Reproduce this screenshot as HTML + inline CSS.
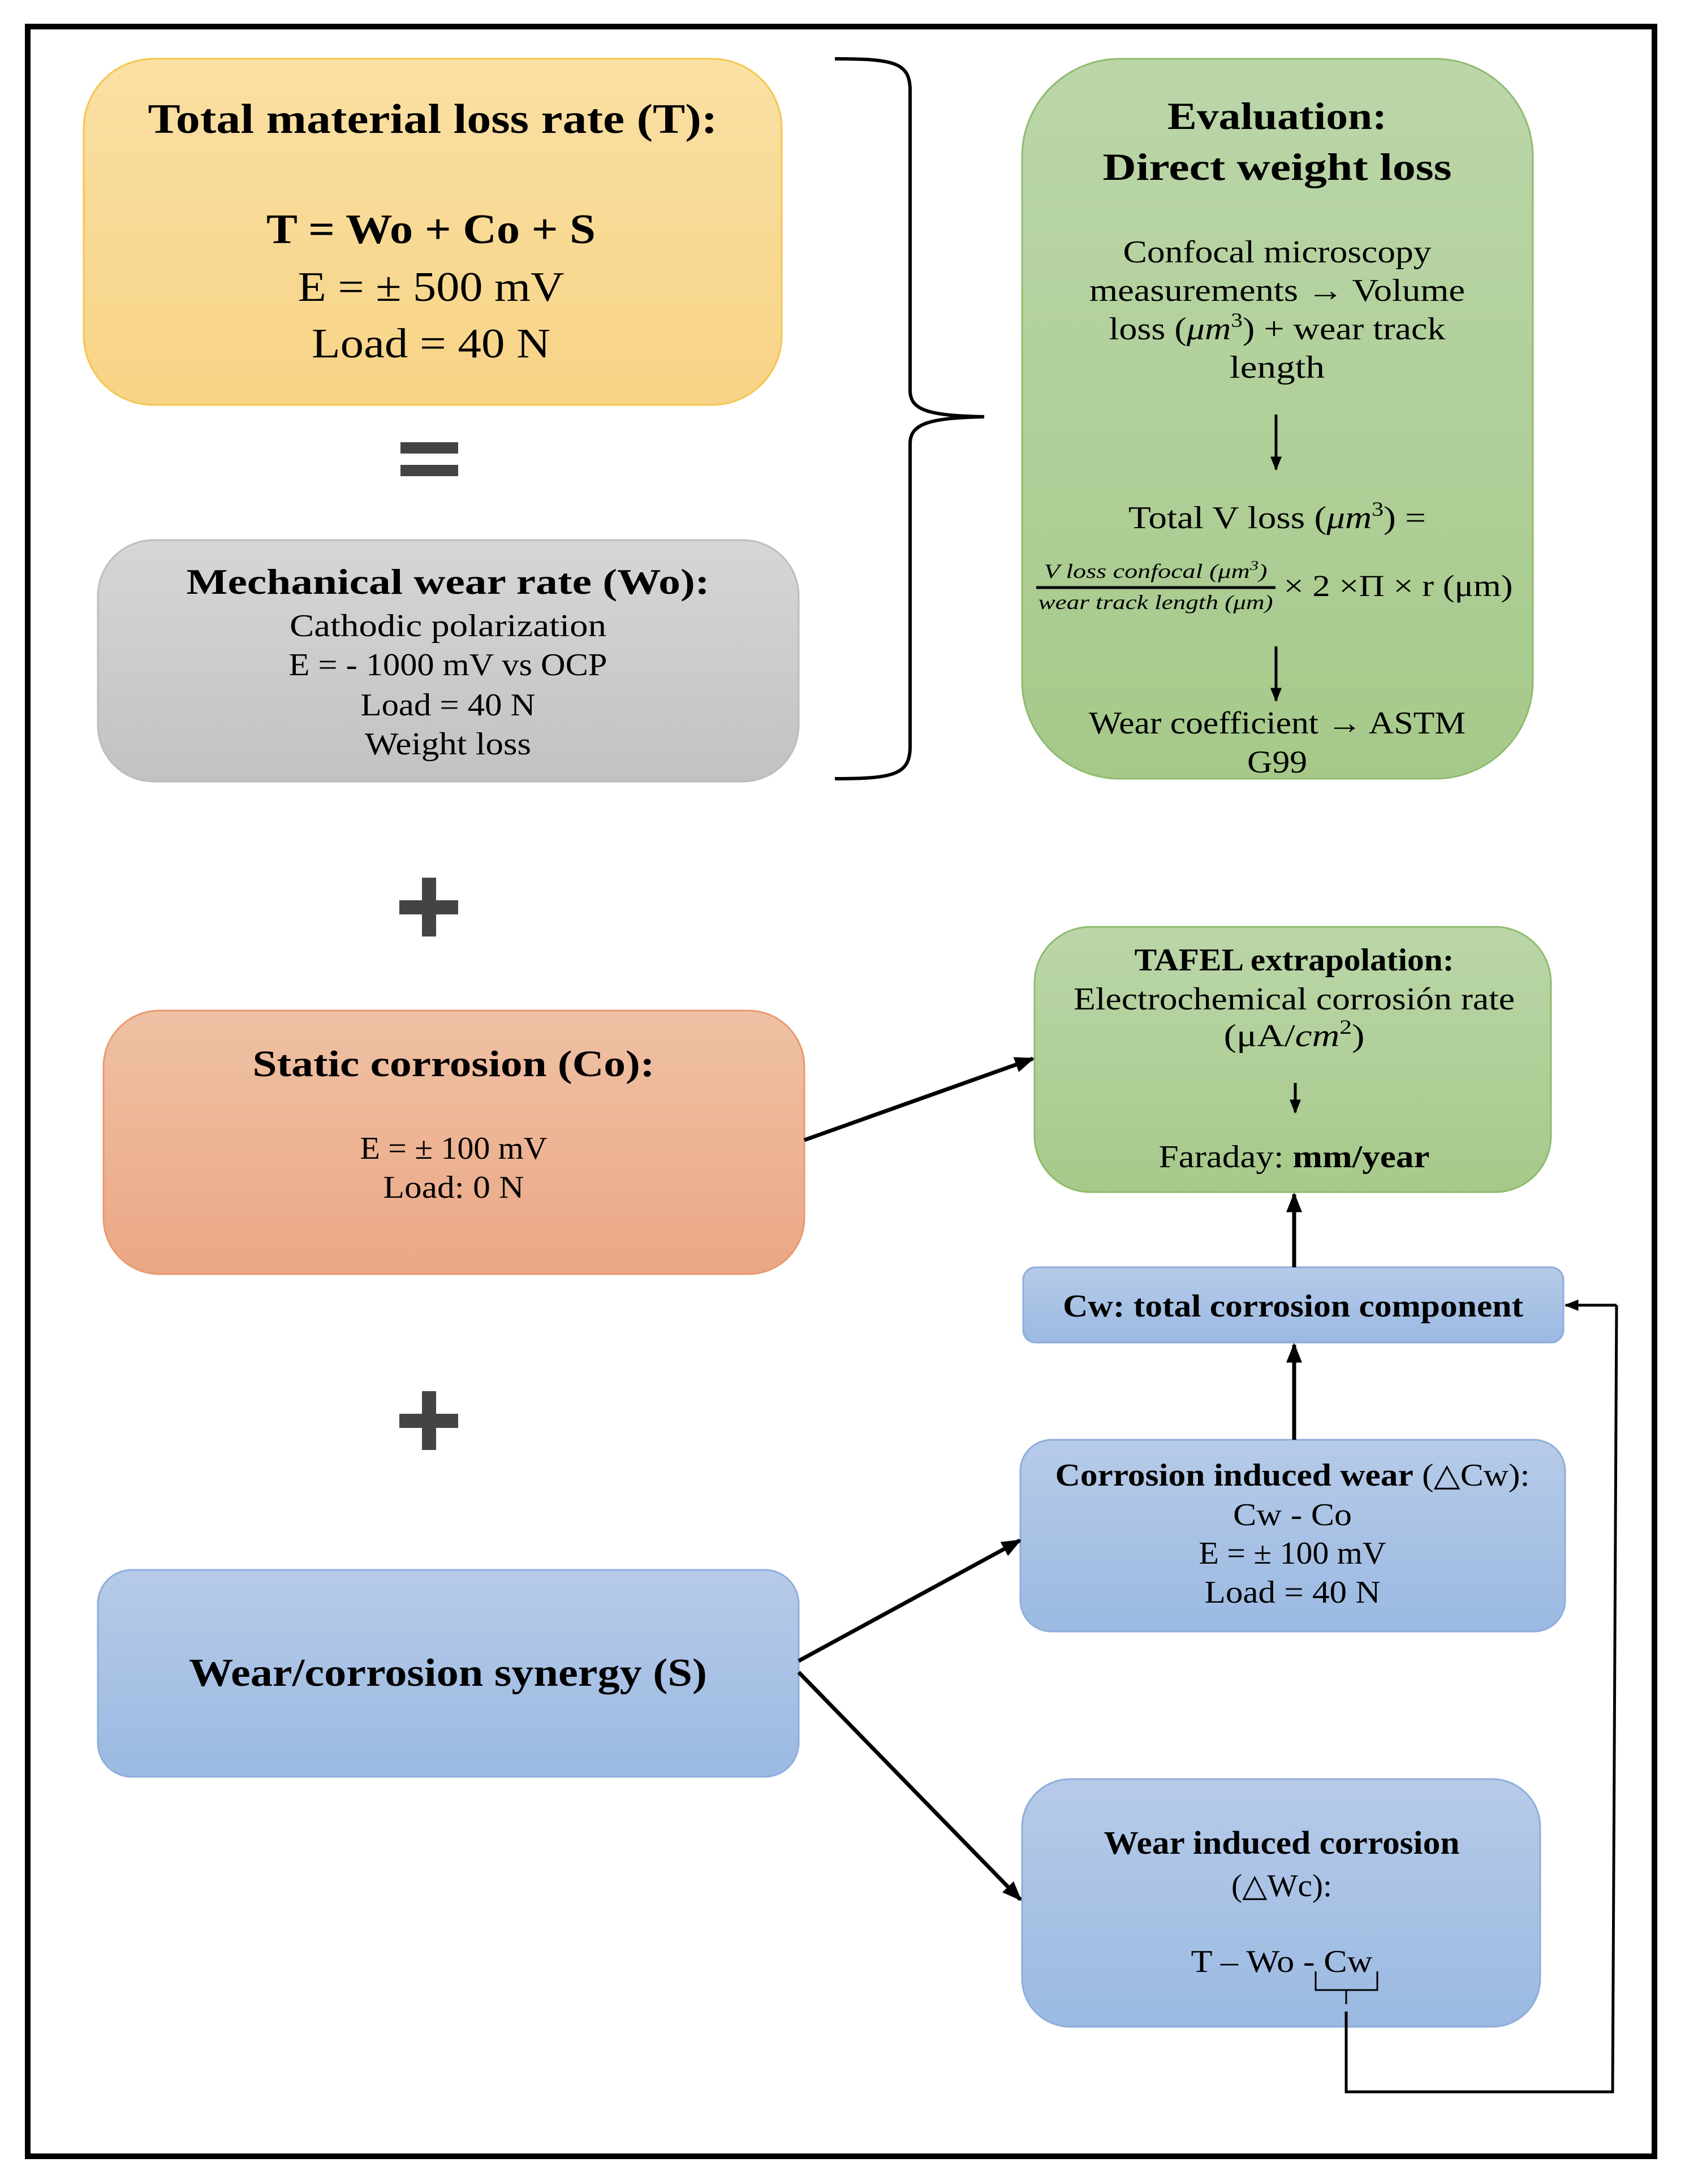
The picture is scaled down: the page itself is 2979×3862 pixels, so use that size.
<!DOCTYPE html>
<html><head><meta charset="utf-8"><style>html,body{margin:0;padding:0;background:#fff}svg{display:block}</style></head>
<body>
<svg width="2979" height="3862" viewBox="0 0 2979 3862" xmlns="http://www.w3.org/2000/svg" font-family="'Liberation Serif', serif" text-anchor="middle">
<defs>
<linearGradient id="gO" x1="0" y1="0" x2="0" y2="1"><stop offset="0" stop-color="#fae0a4"/><stop offset="1" stop-color="#f7d386"/></linearGradient>
<linearGradient id="gG" x1="0" y1="0" x2="0" y2="1"><stop offset="0" stop-color="#d6d6d6"/><stop offset="1" stop-color="#c2c2c2"/></linearGradient>
<linearGradient id="gE" x1="0" y1="0" x2="0" y2="1"><stop offset="0" stop-color="#bbd6a9"/><stop offset="1" stop-color="#a6c98a"/></linearGradient>
<linearGradient id="gR" x1="0" y1="0" x2="0" y2="1"><stop offset="0" stop-color="#efc1a4"/><stop offset="1" stop-color="#eba785"/></linearGradient>
<linearGradient id="gB" x1="0" y1="0" x2="0" y2="1"><stop offset="0" stop-color="#b6cbe8"/><stop offset="1" stop-color="#9bb9e2"/></linearGradient>
<marker id="ah" viewBox="0 0 10 10" refX="9" refY="5" markerWidth="5" markerHeight="5" orient="auto" markerUnits="strokeWidth"><path d="M0,1 L10,5 L0,9 Z" fill="#000"/></marker>
</defs>
<rect x="0" y="0" width="2979" height="3862" fill="#fff"/>
<rect x="49" y="47" width="2876" height="3766" fill="none" stroke="#000" stroke-width="10"/>

<!-- Total box -->
<rect x="148" y="104" width="1234" height="612" rx="123" fill="url(#gO)" stroke="#f4c64e" stroke-width="3"/>
<g font-weight="bold" font-size="74">
<text x="765" y="235" textLength="1007" lengthAdjust="spacingAndGlyphs">Total material loss rate (T):</text>
<text x="762" y="430" textLength="582" lengthAdjust="spacingAndGlyphs">T = Wo + Co + S</text>
</g>
<g font-size="74">
<text x="762" y="532" textLength="471" lengthAdjust="spacingAndGlyphs">E = ± 500 mV</text>
<text x="762" y="632" textLength="422" lengthAdjust="spacingAndGlyphs">Load = 40 N</text>
</g>
<!-- equals -->
<rect x="708" y="782" width="102" height="20" fill="#444"/>
<rect x="708" y="822" width="102" height="20" fill="#444"/>

<!-- Mechanical -->
<rect x="173" y="955" width="1239" height="427" rx="99" fill="url(#gG)" stroke="#bdbdbd" stroke-width="3"/>
<text x="792" y="1050" font-weight="bold" font-size="64" textLength="925" lengthAdjust="spacingAndGlyphs">Mechanical wear rate (Wo):</text>
<g font-size="56">
<text x="792" y="1125" textLength="560" lengthAdjust="spacingAndGlyphs">Cathodic polarization</text>
<text x="792" y="1194" textLength="563" lengthAdjust="spacingAndGlyphs">E = - 1000 mV vs OCP</text>
<text x="792" y="1265" textLength="309" lengthAdjust="spacingAndGlyphs">Load = 40 N</text>
<text x="792" y="1334" textLength="294" lengthAdjust="spacingAndGlyphs">Weight loss</text>
</g>

<!-- brace -->
<path d="M1476,104 C1580,104 1609,110 1609,160 L1609,690 C1609,725 1640,735 1740,737 C1640,739 1609,750 1609,785 L1609,1320 C1609,1370 1580,1377 1476,1377" fill="none" stroke="#000" stroke-width="6"/>

<!-- Evaluation -->
<rect x="1807" y="104" width="903" height="1273" rx="173" fill="url(#gE)" stroke="#8fbb6e" stroke-width="3"/>
<g font-weight="bold" font-size="68">
<text x="2258" y="228" textLength="388" lengthAdjust="spacingAndGlyphs">Evaluation:</text>
<text x="2258" y="318" textLength="617" lengthAdjust="spacingAndGlyphs">Direct weight loss</text>
</g>
<g font-size="56">
<text x="2258" y="464" textLength="545" lengthAdjust="spacingAndGlyphs">Confocal microscopy</text>
<text x="2258" y="532" textLength="664" lengthAdjust="spacingAndGlyphs">measurements → Volume</text>
<text x="2258" y="600" textLength="595" lengthAdjust="spacingAndGlyphs">loss (<tspan font-style="italic">μm</tspan><tspan font-size="36" dy="-22">3</tspan><tspan dy="22">) + wear track</tspan></text>
<text x="2258" y="668" textLength="168" lengthAdjust="spacingAndGlyphs">length</text>
<text x="2258" y="934" textLength="526" lengthAdjust="spacingAndGlyphs">Total V loss (<tspan font-style="italic">μm</tspan><tspan font-size="36" dy="-22">3</tspan><tspan dy="22">) =</tspan></text>
<text x="2258" y="1297" textLength="666" lengthAdjust="spacingAndGlyphs">Wear coefficient → ASTM</text>
<text x="2258" y="1366" textLength="106" lengthAdjust="spacingAndGlyphs">G99</text>
</g>
<line x1="2256" y1="733" x2="2256" y2="830" stroke="#000" stroke-width="5" marker-end="url(#ah)"/>
<line x1="2256" y1="1143" x2="2256" y2="1239" stroke="#000" stroke-width="5" marker-end="url(#ah)"/>
<g font-style="italic" font-size="36">
<text x="2043" y="1022" textLength="395" lengthAdjust="spacingAndGlyphs">V loss confocal (μm<tspan font-size="24" dy="-14">3</tspan><tspan dy="14">)</tspan></text>
<text x="2043" y="1077" textLength="415" lengthAdjust="spacingAndGlyphs">wear track length (μm)</text>
</g>
<line x1="1832" y1="1039" x2="2255" y2="1039" stroke="#000" stroke-width="5"/>
<text x="2472" y="1054" font-size="54" textLength="405" lengthAdjust="spacingAndGlyphs">× 2 ×Π × r (μm)</text>

<!-- plus signs -->
<rect x="706" y="1592" width="104" height="25" fill="#444"/><rect x="746" y="1552" width="25" height="104" fill="#444"/>
<rect x="706" y="2500" width="104" height="25" fill="#444"/><rect x="746" y="2460" width="25" height="104" fill="#444"/>

<!-- Static corrosion -->
<rect x="183" y="1787" width="1239" height="466" rx="99" fill="url(#gR)" stroke="#e99a70" stroke-width="3"/>
<text x="802" y="1903" font-weight="bold" font-size="66" textLength="711" lengthAdjust="spacingAndGlyphs">Static corrosion (Co):</text>
<g font-size="56">
<text x="802" y="2049" textLength="331" lengthAdjust="spacingAndGlyphs">E = ± 100 mV</text>
<text x="802" y="2118" textLength="249" lengthAdjust="spacingAndGlyphs">Load: 0 N</text>
</g>

<!-- TAFEL -->
<rect x="1829" y="1639" width="913" height="469" rx="99" fill="url(#gE)" stroke="#8fbb6e" stroke-width="3"/>
<text x="2288" y="1716" font-weight="bold" font-size="56" textLength="565" lengthAdjust="spacingAndGlyphs">TAFEL extrapolation:</text>
<g font-size="56">
<text x="2288" y="1785" textLength="780" lengthAdjust="spacingAndGlyphs">Electrochemical corrosión rate</text>
<text x="2288" y="1850" textLength="249" lengthAdjust="spacingAndGlyphs">(μA/<tspan font-style="italic">cm</tspan><tspan font-size="36" dy="-22">2</tspan><tspan dy="22">)</tspan></text>
<text x="2288" y="2064" textLength="479" lengthAdjust="spacingAndGlyphs">Faraday: <tspan font-weight="bold">mm/year</tspan></text>
</g>
<line x1="2290" y1="1915" x2="2290" y2="1967" stroke="#000" stroke-width="5" marker-end="url(#ah)"/>

<!-- Cw -->
<rect x="1809" y="2241" width="955" height="133" rx="22" fill="url(#gB)" stroke="#8eaedb" stroke-width="3"/>
<text x="2286" y="2328" font-weight="bold" font-size="56" textLength="814" lengthAdjust="spacingAndGlyphs">Cw: total corrosion component</text>

<!-- Corrosion induced wear -->
<rect x="1804" y="2546" width="963" height="339" rx="55" fill="url(#gB)" stroke="#8eaedb" stroke-width="3"/>
<g font-size="56">
<text x="2285" y="2627" textLength="839" lengthAdjust="spacingAndGlyphs"><tspan font-weight="bold">Corrosion induced wear</tspan> (△Cw):</text>
<text x="2285" y="2697" textLength="210" lengthAdjust="spacingAndGlyphs">Cw - Co</text>
<text x="2285" y="2765" textLength="331" lengthAdjust="spacingAndGlyphs">E = ± 100 mV</text>
<text x="2285" y="2834" textLength="311" lengthAdjust="spacingAndGlyphs">Load = 40 N</text>
</g>

<!-- Synergy -->
<rect x="173" y="2776" width="1239" height="366" rx="60" fill="url(#gB)" stroke="#8eaedb" stroke-width="3"/>
<text x="792" y="2981" font-weight="bold" font-size="70" textLength="916" lengthAdjust="spacingAndGlyphs">Wear/corrosion synergy (S)</text>

<!-- Wear induced corrosion -->
<rect x="1807" y="3146" width="916" height="438" rx="85" fill="url(#gB)" stroke="#8eaedb" stroke-width="3"/>
<text x="2266" y="3278" font-weight="bold" font-size="58" textLength="629" lengthAdjust="spacingAndGlyphs">Wear induced corrosion</text>
<g font-size="56">
<text x="2266" y="3353" textLength="178" lengthAdjust="spacingAndGlyphs">(△Wc):</text>
<text x="2266" y="3487" textLength="321" lengthAdjust="spacingAndGlyphs">T – Wo - Cw</text>
</g>
<path d="M2326,3486 L2326,3519 L2435,3519 L2435,3486 M2380,3519 L2380,3544" fill="none" stroke="#000" stroke-width="3"/>

<!-- connectors -->
<line x1="1422" y1="2016" x2="1826" y2="1872" stroke="#000" stroke-width="7" marker-end="url(#ah)"/>
<line x1="1412" y1="2937" x2="1803" y2="2724" stroke="#000" stroke-width="7" marker-end="url(#ah)"/>
<line x1="1412" y1="2957" x2="1804" y2="3359" stroke="#000" stroke-width="7" marker-end="url(#ah)"/>
<line x1="2288" y1="2241" x2="2288" y2="2112" stroke="#000" stroke-width="7" marker-end="url(#ah)"/>
<line x1="2288" y1="2546" x2="2288" y2="2378" stroke="#000" stroke-width="7" marker-end="url(#ah)"/>
<polyline points="2380,3557 2380,3699 2851,3699 2858,2308" fill="none" stroke="#000" stroke-width="5"/>
<line x1="2858" y1="2308" x2="2768" y2="2308" stroke="#000" stroke-width="5" marker-end="url(#ah)"/>
</svg>
</body></html>
